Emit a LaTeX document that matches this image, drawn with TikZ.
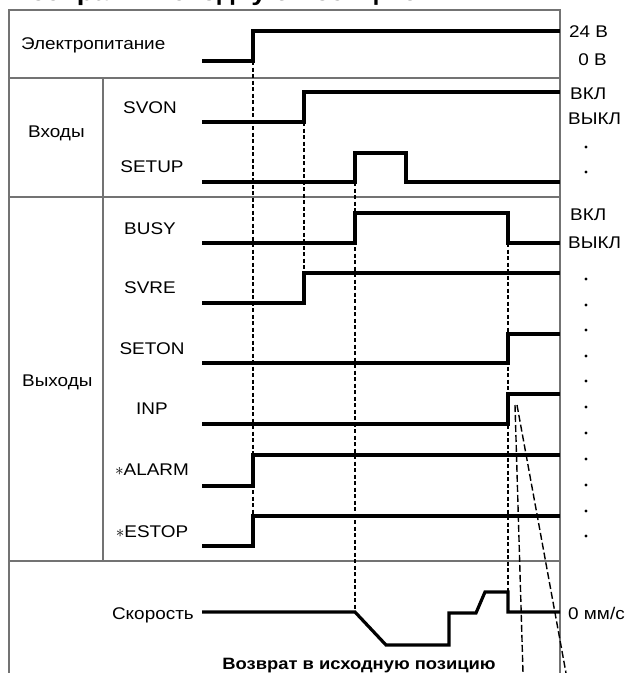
\documentclass[tikz,border=0pt]{standalone}
\usepackage{fontspec}
\setmainfont[FakeStretch=1.12]{Liberation Sans}
\begin{document}
\begin{tikzpicture}[x=1pt,y=-1pt,
  frame/.style={draw=black!55, line width=1.1pt},
  sig/.style={line width=3.2pt, line join=miter},
  guide/.style={line width=1.1pt, dash pattern=on 4pt off 2.5pt},
  ray/.style={line width=1.4pt, dash pattern=on 7pt off 3pt},
  lbl/.style={font=\fontsize{16.9}{20}\selectfont, inner sep=0pt},
  dotm/.style={fill=black},
]
\useasboundingbox (0,0) rectangle (627,673);
% clipped heading
\node[anchor=base west, inner sep=0pt, font=\bfseries\fontsize{24.5}{28}\selectfont] (title) at (10,0.8) {Возврат в исходную позицию};
% frame
\draw[frame] (9,673) -- (9,10) -- (560,10) -- (560,673);
\draw[frame] (9,78) -- (560,78);
\draw[frame] (9,197) -- (560,197);
\draw[frame] (9,561) -- (560,561);
\draw[frame] (103,78) -- (103,561);
% guides
\draw[guide] (253,61) -- (253,516);
\draw[guide] (304,122) -- (304,303);
\draw[guide] (355,182) -- (355,612);
\draw[guide] (508,243) -- (508,592);
\draw[ray] (515,405) -- (523,673);
\draw[ray] (517,405) -- (566,673);
% signals
\draw[sig] (202,61) -- (253,61) -- (253,31) -- (560,31);
\draw[sig] (202,122) -- (304,122) -- (304,92) -- (560,92);
\draw[sig] (202,182) -- (355,182) -- (355,153) -- (406,153) -- (406,182) -- (560,182);
\draw[sig] (202,243) -- (355,243) -- (355,213) -- (508,213) -- (508,243) -- (560,243);
\draw[sig] (202,303) -- (304,303) -- (304,273) -- (560,273);
\draw[sig] (202,363) -- (508,363) -- (508,334) -- (560,334);
\draw[sig] (202,424) -- (508,424) -- (508,394) -- (560,394);
\draw[sig] (202,486) -- (253,486) -- (253,455) -- (560,455);
\draw[sig] (202,546) -- (253,546) -- (253,516) -- (560,516);
\draw[sig] (202,612) -- (355,612) -- (386,645) -- (449,645) -- (449,613) -- (476,613) -- (485,592) -- (508,592) -- (508,612) -- (560,612);
% row labels
\node[lbl, anchor=west] (lpow) at (21,45) {Электропитание};
\node[lbl, anchor=west] (lin) at (28,133) {Входы};
\node[lbl, anchor=west] (lout) at (22,382) {Выходы};
\node[lbl] (svon) at (150,108) {SVON};
\node[lbl] (setup) at (152,167) {SETUP};
\node[lbl] (busy) at (150,229) {BUSY};
\node[lbl] (svre) at (150,288) {SVRE};
\node[lbl] (seton) at (152,349) {SETON};
\node[lbl] (inp) at (152,409) {INP};
\node[lbl] (alarm) at (152,470) {$\ast$ALARM};
\node[lbl] (estop) at (152,532) {$\ast$ESTOP};
\node[lbl, anchor=east] (speed) at (194,615) {Скорость};
% right labels
\node[lbl, anchor=west] (v24) at (569,32) {24 В};
\node[lbl, anchor=east] (v0) at (607,60) {0 В};
\node[lbl, anchor=west] (on1) at (570,94) {ВКЛ};
\node[lbl, anchor=west] (off1) at (568,119) {ВЫКЛ};
\node[lbl, anchor=west] (on2) at (570,215) {ВКЛ};
\node[lbl, anchor=west] (off2) at (568,243) {ВЫКЛ};
\node[lbl, anchor=west] (v0s) at (568,613) {0 мм/с};
\foreach \yy in {147,172,279,305,330,356,381,407,433,459,485,511,536}
  \fill[dotm] (586,\yy) circle (1.6pt);
% bottom caption
\node[inner sep=0pt, font=\bfseries\fontsize{16.4}{19}\selectfont] (ret) at (359,666) {Возврат в исходную позицию};
\end{tikzpicture}
\end{document}
